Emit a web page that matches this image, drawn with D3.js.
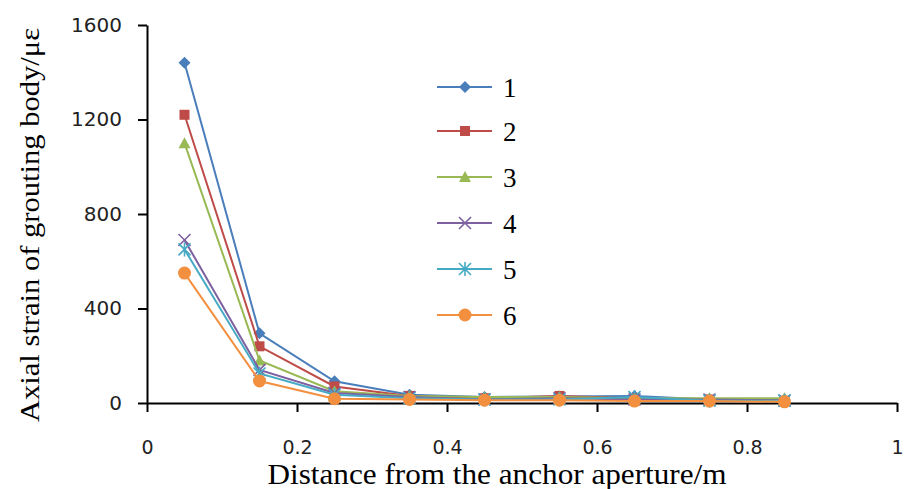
<!DOCTYPE html>
<html>
<head>
<script src="https://d3js.org/d3.v7.min.js"></script>
<style>
  body { margin: 0; background: #fff; }
  .tick text { font-family: "DejaVu Sans", sans-serif; font-size: 20px; fill: #222; }
  .x-axis .tick text { font-size: 19px; }
  .axis path, .axis line { stroke: #000; stroke-width: 2px; }
  .axis-title { font-family: "Liberation Serif", "Times New Roman", serif; font-size: 28px; fill: #000; }
  .x-title { font-size: 29px; }
  .legend text { font-family: "Liberation Serif", "Times New Roman", serif; font-size: 27px; fill: #000; }
</style>
</head>
<body>
<div id="chart"></div>
<script>
var distances = [0.05, 0.15, 0.25, 0.35, 0.45, 0.55, 0.65, 0.75, 0.85];
var seriesNames = ["1", "2", "3", "4", "5", "6"];
var s1 = [1440, 295, 92, 35, 25, 28, 30, 15, 15];
var s2 = [1220, 240, 70, 30, 20, 30, 20, 15, 10];
var s3 = [1100, 180, 50, 30, 25, 25, 20, 20, 20];
var s4 = [690, 140, 42, 25, 15, 20, 15, 15, 10];
var s5 = [650, 125, 35, 20, 15, 15, 25, 10, 10];
var s6 = [550, 93, 18, 15, 12, 12, 8, 8, 5];
var xTicks = [0, 0.2, 0.4, 0.6, 0.8, 1];
var yTicks = [0, 400, 800, 1200, 1600];

var allSeries = [s1, s2, s3, s4, s5, s6];
var colors = ["#4a7ebb", "#be4b48", "#98b954", "#7d60a0", "#46aac5", "#f39040"];
var shapes = ["diamond", "square", "triangle", "x", "star", "circle"];

var width = 909, height = 489;
var margin = { top: 25, right: 12, bottom: 86, left: 147 };

var svg = d3.select("#chart").append("svg")
  .attr("width", width)
  .attr("height", height);

var x = d3.scaleLinear().domain([0, 1]).range([margin.left, width - margin.right]);
var y = d3.scaleLinear().domain([0, 1600]).range([height - margin.bottom, margin.top]);

// axes
svg.append("g")
  .attr("class", "axis x-axis")
  .attr("transform", "translate(0," + y(0) + ")")
  .call(d3.axisBottom(x).tickValues(xTicks).tickSize(9).tickSizeOuter(0).tickPadding(29)
    .tickFormat(function(d) { return d === 0 || d === 1 ? d : d3.format(".1f")(d); }));

svg.append("g")
  .attr("class", "axis")
  .attr("transform", "translate(" + x(0) + ",0)")
  .call(d3.axisLeft(y).tickValues(yTicks).tickSize(9).tickSizeOuter(0).tickPadding(16)
    .tickFormat(d3.format("d")));

svg.append("text")
  .attr("class", "axis-title x-title")
  .attr("x", 497)
  .attr("y", 484)
  .attr("text-anchor", "middle")
  .attr("textLength", 459)
  .attr("lengthAdjust", "spacingAndGlyphs")
  .text("Distance from the anchor aperture/m");

svg.append("text")
  .attr("class", "axis-title")
  .attr("transform", "translate(39,225) rotate(-90)")
  .attr("text-anchor", "middle")
  .attr("textLength", 394)
  .attr("lengthAdjust", "spacingAndGlyphs")
  .text("Axial strain of grouting body/με");

function drawMarker(g, shape, color) {
  if (shape === "diamond") {
    g.append("path").attr("d", "M0,-6L6,0L0,6L-6,0Z").attr("fill", color);
  } else if (shape === "square") {
    g.append("rect").attr("x", -5).attr("y", -5).attr("width", 10).attr("height", 10).attr("fill", color);
  } else if (shape === "triangle") {
    g.append("path").attr("d", "M0,-6L6,5L-6,5Z").attr("fill", color);
  } else if (shape === "x") {
    g.append("path").attr("d", "M-6,-6L6,6M-6,6L6,-6").attr("stroke", color).attr("stroke-width", 1.6);
  } else if (shape === "star") {
    g.append("path").attr("d", "M-6,-6L6,6M-6,6L6,-6M0,-7L0,7").attr("stroke", color).attr("stroke-width", 1.6);
  } else {
    g.append("circle").attr("r", 6.5).attr("fill", color);
  }
}

var line = d3.line()
  .x(function(d, i) { return x(distances[i]); })
  .y(function(d) { return y(d); });

allSeries.forEach(function(vals, k) {
  svg.append("path")
    .datum(vals)
    .attr("d", line)
    .attr("fill", "none")
    .attr("stroke", colors[k])
    .attr("stroke-width", 2);
  vals.forEach(function(v, i) {
    var g = svg.append("g").attr("transform", "translate(" + x(distances[i]) + "," + y(v) + ")");
    drawMarker(g, shapes[k], colors[k]);
  });
});

// legend
var legend = svg.append("g").attr("class", "legend");
var legendY = [87, 131, 177, 223, 269, 315];
seriesNames.forEach(function(name, k) {
  var row = legend.append("g").attr("transform", "translate(437," + legendY[k] + ")");
  row.append("line").attr("x1", 0).attr("x2", 55).attr("stroke", colors[k]).attr("stroke-width", 2);
  drawMarker(row.append("g").attr("transform", "translate(28,0)"), shapes[k], colors[k]);
  row.append("text").attr("x", 66).attr("y", 10).text(name);
});
</script>
</body>
</html>
